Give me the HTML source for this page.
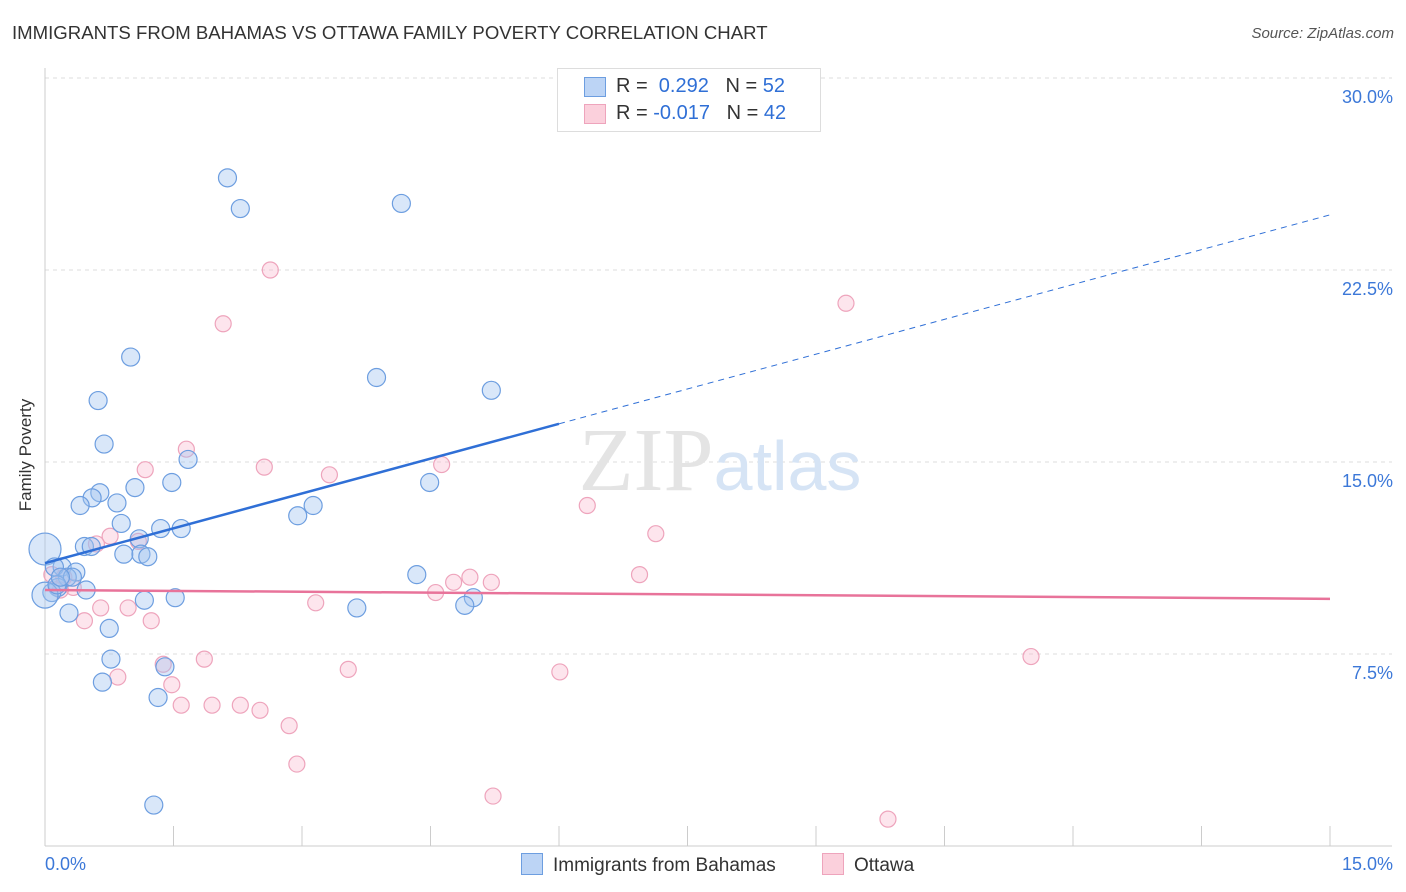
<!DOCTYPE html>
<html><head><meta charset="utf-8"><style>
body{margin:0;background:#fff;font-family:"Liberation Sans",sans-serif;}
#w{position:relative;width:1406px;height:892px;overflow:hidden}
.t{position:absolute;white-space:nowrap}
</style></head><body>
<div id="w">
<div class="t" style="left:12px;top:22px;font-size:18.6px;color:#333">IMMIGRANTS FROM BAHAMAS VS OTTAWA FAMILY POVERTY CORRELATION CHART</div>
<div class="t" style="right:12px;top:25px;font-size:15px;color:#555;font-style:italic">Source: ZipAtlas.com</div>
<div class="t" style="left:-30px;top:445px;font-size:17px;color:#333;transform:rotate(-90deg)">Family Poverty</div>
<svg id="s" width="1406" height="892" style="position:absolute;left:0;top:0"></svg>
</div>
<script>
const blueX=[2.13,2.28,4.16,1.00,3.87,5.21,0.62,0.69,1.67,1.48,1.05,4.49,0.64,0.55,0.41,0.84,3.13,2.95,0.89,1.35,1.59,1.10,0.46,0.54,0.00,0.92,1.12,1.20,0.20,0.11,0.36,0.26,0.32,0.15,0.48,0.08,0.00,4.34,1.16,1.52,5.00,4.90,3.64,0.28,0.75,0.77,1.40,0.67,1.32,1.27,0.14,0.18];
const blueY=[26.1,24.9,25.1,19.1,18.3,17.8,17.4,15.7,15.1,14.2,14.0,14.2,13.8,13.6,13.3,13.4,13.3,12.9,12.6,12.4,12.4,12.0,11.7,11.7,11.6,11.4,11.4,11.3,10.9,10.9,10.7,10.5,10.5,10.1,10.0,9.9,9.8,10.6,9.6,9.7,9.7,9.4,9.3,9.1,8.5,7.3,7.0,6.4,5.8,1.6,10.2,10.5];
const blueR=[9,9,9,9,9,9,9,9,9,9,9,9,9,9,9,9,9,9,9,9,9,9,9,9,16,9,9,9,9,9,9,9,9,9,9,9,13,9,9,9,9,9,9,9,9,9,9,9,9,9,9,9];
const pinkX=[2.63,2.08,9.35,1.65,1.17,2.56,3.32,4.63,6.33,7.13,0.76,1.09,0.60,0.08,0.22,0.33,4.96,5.21,4.77,4.56,6.94,3.16,0.65,0.97,0.46,1.24,1.38,1.86,3.54,6.01,11.51,0.85,1.48,1.59,1.95,2.28,2.51,2.85,2.94,5.23,9.84,0.18];
const pinkY=[22.5,20.4,21.2,15.5,14.7,14.8,14.5,14.9,13.3,12.2,12.1,11.9,11.8,10.6,10.5,10.1,10.5,10.3,10.3,9.9,10.6,9.5,9.3,9.3,8.8,8.8,7.1,7.3,6.9,6.8,7.4,6.6,6.3,5.5,5.5,5.5,5.3,4.7,3.2,1.95,1.05,10.0];
const yTicks=[7.5,15,22.5,30];
const x0=45,x1=1330,yb=846,yt=78;
const X=v=>x0+v/15*(x1-x0), Y=v=>yb-v/30*(yb-yt);
const s=document.getElementById('s'),NS='http://www.w3.org/2000/svg';
function el(t,a,p){const e=document.createElementNS(NS,t);for(const k in a)e.setAttribute(k,a[k]);(p||s).appendChild(e);return e;}
yTicks.forEach(v=>{const g=el('line',{x1:x0,x2:1392,y1:Y(v),y2:Y(v),stroke:'#ddd','stroke-dasharray':'4,4'});
const t=el('text',{x:1393,y:Y(v)+25,'text-anchor':'end','font-size':18,fill:'#3c78d8','font-family':'Liberation Sans'});t.textContent=v.toFixed(1)+'%';});
const ax=el('line',{x1:x0,x2:x0,y1:68,y2:yb,stroke:'#ccc'});
const bx=el('line',{x1:x0,x2:1392,y1:yb,y2:yb,stroke:'#ccc'});
for(let i=0;i<=10;i++){const l=el('line',{x1:X(i*1.5),x2:X(i*1.5),y1:yb,y2:yb-20,stroke:'#ccc'});}
[[0,'0.0%','start',45],[15,'15.0%','end',1393]].forEach(a=>{const t=el('text',{x:a[3],y:870,'text-anchor':a[2],'font-size':18,fill:'#3c78d8','font-family':'Liberation Sans'});t.textContent=a[1];});
const wm=el('text',{x:720,y:490,'text-anchor':'middle','font-size':90,'font-family':'Liberation Serif',fill:'#e4e4e4'});wm.innerHTML='ZIP<tspan fill="#d6e4f5" font-family="Liberation Sans" font-size="70">atlas</tspan>';
pinkX.forEach((v,i)=>{const c=el('circle',{cx:X(v),cy:Y(pinkY[i]),r:8,fill:'rgba(248,180,202,0.35)',stroke:'#eea4bc','stroke-width':1.2});});
blueX.forEach((v,i)=>{const c=el('circle',{cx:X(v),cy:Y(blueY[i]),r:blueR[i],fill:'rgba(160,196,240,0.4)',stroke:'#6d9ee0','stroke-width':1.2});});
const bt=[11.05,0.907],pt=[10.0,-0.023];
let l=el('line',{x1:X(0),y1:Y(bt[0]),x2:X(6),y2:Y(bt[0]+bt[1]*6),stroke:'#2f6fd6','stroke-width':2.5});
l=el('line',{x1:X(6),y1:Y(bt[0]+bt[1]*6),x2:X(15),y2:Y(bt[0]+bt[1]*15),stroke:'#2f6fd6','stroke-width':1,'stroke-dasharray':'6,5'});
l=el('line',{x1:X(0),y1:Y(pt[0]),x2:X(15),y2:Y(pt[0]+pt[1]*15),stroke:'#e8739a','stroke-width':2.5});
</script>
<div class="t" style="left:557px;top:68px;width:262px;height:62px;border:1px solid #ddd;background:#fff;font-size:20px;color:#333">
<div style="position:absolute;left:26px;top:8px;width:20px;height:18px;background:#bcd4f5;border:1px solid #6d9ee0"></div>
<div style="position:absolute;left:58px;top:6px">R = &nbsp;<span style="color:#2f6fd6">0.292</span> &nbsp; N = <span style="color:#2f6fd6">52</span></div>
<div style="position:absolute;left:26px;top:35px;width:20px;height:18px;background:#fbd0dc;border:1px solid #eea4bc"></div>
<div style="position:absolute;left:58px;top:33px">R = <span style="color:#2f6fd6">-0.017</span> &nbsp; N = <span style="color:#2f6fd6">42</span></div>
</div>
<div class="t" style="left:521px;top:853px;font-size:19px;color:#333"><span style="display:inline-block;width:20px;height:20px;background:#bcd4f5;border:1px solid #6d9ee0;vertical-align:-4px;margin-right:10px"></span>Immigrants from Bahamas</div>
<div class="t" style="left:822px;top:853px;font-size:19px;color:#333"><span style="display:inline-block;width:20px;height:20px;background:#fbd0dc;border:1px solid #eea4bc;vertical-align:-4px;margin-right:10px"></span>Ottawa</div>
</body></html>
